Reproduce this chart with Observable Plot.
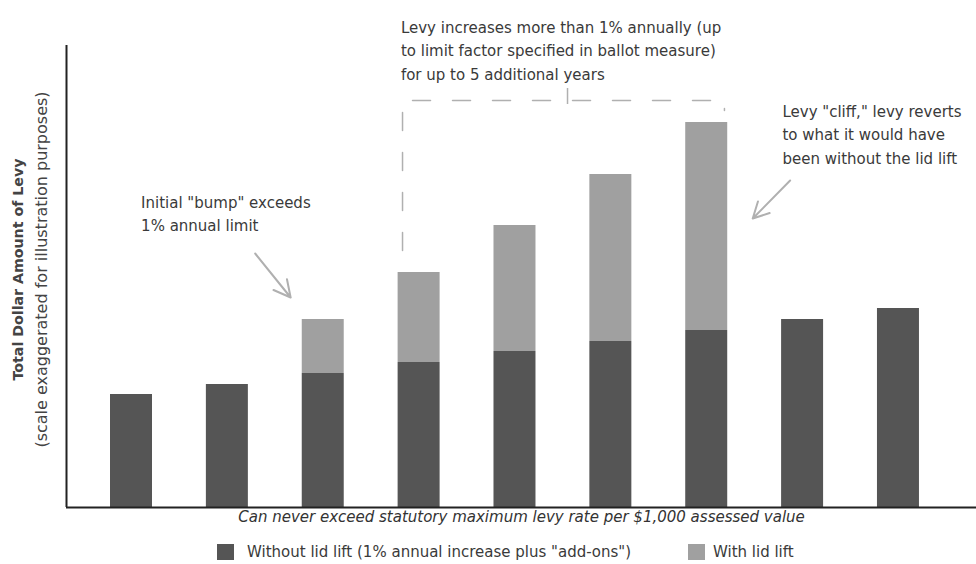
<!DOCTYPE html>
<html>
<head>
<meta charset="utf-8">
<script src="https://cdn.jsdelivr.net/npm/d3@7"></script>
<script src="https://cdn.jsdelivr.net/npm/@observablehq/plot@0.6"></script>
<style>
  body { margin: 0; background: #fff; font-family: "DejaVu Sans", sans-serif; }
  #chart { width: 976px; }
  #legend { position: relative; width: 976px; height: 32px; font-size: 15px; color: #3a3a3a; }
  .sw { position: absolute; top: 12px; width: 17px; height: 16px; }
  .lab { position: absolute; top: 11px; line-height: 18px; }
</style>
</head>
<body>
<div id="chart"></div>
<div id="legend"></div>
<script>
// ---- data ----
const periods = [1, 2, 3, 4, 5, 6, 7, 8, 9];
const withoutLidLift = [113, 123, 134, 145, 156, 166, 177, 188, 199];
const withLidLift = [null, null, 188, 235, 282, 333, 385, null, null];
const seriesNames = ["Without lid lift (1% annual increase plus \"add-ons\")", "With lid lift"];
const seriesColors = ["#555555", "#a0a0a0"];
const yTitle = ["Total Dollar Amount of Levy", "(scale exaggerated for illustration purposes)"];
const xTitle = "Can never exceed statutory maximum levy rate per $1,000 assessed value";
const notes = [
  {text: "Levy increases more than 1% annually (up\nto limit factor specified in ballot measure)\nfor up to 5 additional years", x: 3.81, y: 459},
  {text: "Levy \"cliff,\" levy reverts\nto what it would have\nbeen without the lid lift", x: 7.79, y: 375},
  {text: "Initial \"bump\" exceeds\n1% annual limit", x: 1.10, y: 295.5}
];
const arrows = [
  {x1: 2.29, y1: 254, x2: 2.66, y2: 210},
  {x1: 7.87, y1: 327, x2: 7.48, y2: 289}
];
const bracket = [
  {x: 3.827, y: 257}, {x: 3.827, y: 407}, {x: 7.185, y: 407}, {x: 7.185, y: 397}
];
const bracketTick = [{x: 5.548, y1: 403, y2: 419}];

const table = periods.map((p, i) => ({period: p, base: withoutLidLift[i], total: withLidLift[i]}));
const half = 0.219;

const chart = Plot.plot({
  width: 976,
  height: 532,
  marginLeft: 66,
  marginRight: 0,
  marginTop: 45,
  marginBottom: 25,
  style: {fontFamily: "DejaVu Sans, sans-serif", fontSize: "15px", color: "#3a3a3a", background: "#fff"},
  x: {domain: [0.322, 9.814], axis: null},
  y: {domain: [0, 462], axis: null},
  marks: [
    Plot.rectY(table, {x1: d => d.period - half, x2: d => d.period + half, y1: 0, y2: "base", fill: seriesColors[0]}),
    Plot.rectY(table.filter(d => d.total != null), {x1: d => d.period - half, x2: d => d.period + half, y1: "base", y2: "total", fill: seriesColors[1]}),
    Plot.ruleY([0], {stroke: "#222", strokeWidth: 2}),
    Plot.ruleX([0.322], {stroke: "#222", strokeWidth: 2}),
    Plot.line(bracket, {x: "x", y: "y", stroke: "#b0b0b0", strokeWidth: 1.5, strokeDasharray: "18,22"}),
    Plot.ruleX(bracketTick, {x: "x", y1: "y1", y2: "y2", stroke: "#b0b0b0", strokeWidth: 1.5}),
    Plot.arrow(arrows, {x1: "x1", y1: "y1", x2: "x2", y2: "y2", stroke: "#b0b0b0", strokeWidth: 2, headLength: 14, headAngle: 55}),
    Plot.text(notes, {x: "x", y: "y", text: "text", textAnchor: "start", lineAnchor: "middle", lineHeight: 1.57, fontSize: 15, fill: "#3a3a3a"}),
    Plot.text([xTitle], {frameAnchor: "bottom", dy: 14, fontStyle: "italic", fontSize: 15, fill: "#333"}),
    Plot.text([yTitle[0]], {frameAnchor: "left", textAnchor: "middle", dx: -48, dy: -7, rotate: -90, fontWeight: "bold", fontSize: 14.2, fill: "#444"}),
    Plot.text([yTitle[1]], {frameAnchor: "left", textAnchor: "middle", dx: -25, dy: -7, rotate: -90, fontSize: 16, fill: "#444"})
  ]
});
document.getElementById("chart").append(chart);

const legend = document.getElementById("legend");
const swX = [217, 688];
const labX = [247, 713];
seriesNames.forEach((name, i) => {
  const sw = document.createElement("div");
  sw.className = "sw";
  sw.style.left = swX[i] + "px";
  sw.style.background = seriesColors[i];
  legend.append(sw);
  const lab = document.createElement("div");
  lab.className = "lab";
  lab.style.left = labX[i] + "px";
  lab.textContent = name;
  legend.append(lab);
});
</script>
</body>
</html>
